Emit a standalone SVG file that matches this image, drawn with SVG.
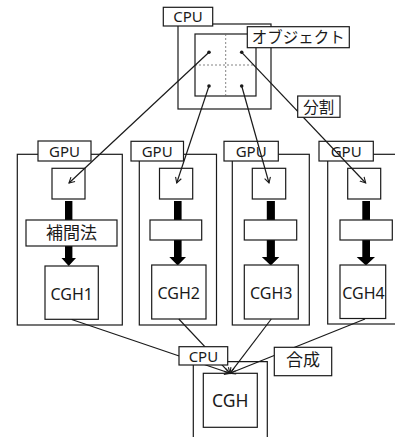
<svg xmlns="http://www.w3.org/2000/svg" width="395" height="437" viewBox="0 0 395 437">
  <style>
    .box { fill: #fff; stroke: #1a1a1a; stroke-width: 1.2; }
    .frame { fill: none; stroke: #1a1a1a; stroke-width: 1.2; }
    .grid { fill: none; stroke: #666; stroke-width: 0.8; stroke-dasharray: 2 2; }
    .link { fill: none; stroke: #1a1a1a; stroke-width: 1.2; marker-end: url(#tip); }
    .thick { fill: #000; }
    .dot { fill: #1a1a1a; }
    text { font-family: "Noto Sans", "Noto Sans CJK JP", sans-serif; fill: #1a1a1a; text-anchor: middle; }
    .lbl { font-size: 15px; }
    .cgh { font-size: 16px; }
    .jp { font-family: "Noto Sans CJK JP", sans-serif; }
  </style>
  <defs>
    <marker id="tip" viewBox="-6 -4 8 8" markerWidth="8" markerHeight="8" refX="0" refY="0" orient="auto" markerUnits="userSpaceOnUse">
      <path d="M-5.5,-3 L0,0 L-5.5,3" fill="none" stroke="#1a1a1a" stroke-width="1.1"/>
    </marker>
  </defs>
  <rect width="395" height="437" fill="#fff"/>

  <!-- host CPU holding the object -->
  <g id="cpu-top">
    <rect class="frame" x="178" y="24" width="93" height="85"/>
    <rect class="box" x="195" y="34" width="61" height="62"/>
    <line class="grid" x1="225.7" y1="34" x2="225.7" y2="96"/>
    <line class="grid" x1="195" y1="65" x2="256" y2="65"/>
    <circle class="dot" cx="209" cy="52.3" r="1.8"/>
    <circle class="dot" cx="241.7" cy="52.3" r="1.8"/>
    <circle class="dot" cx="209" cy="86" r="1.8"/>
    <circle class="dot" cx="241.7" cy="86" r="1.8"/>
    <rect class="box" x="163.3" y="7.3" width="49.4" height="18.7"/>
    <text class="lbl" x="188" y="22">CPU</text>
  </g>
  <g id="label-object">
    <rect class="box" x="247.3" y="26.7" width="102" height="21"/>
    <text class="jp" x="298.3" y="42.6" font-size="15.5">オブジェクト</text>
  </g>

  <!-- GPU 1 -->
  <g id="gpu1">
    <rect class="frame" x="17.3" y="154.3" width="105" height="170.7"/>
    <rect class="box" x="38" y="141" width="53" height="20"/>
    <text class="lbl" x="64.5" y="157">GPU</text>
    <rect class="box" x="52" y="168.3" width="33" height="30.7"/>
    <polygon class="thick" points="65,201 72.4,201 72.4,258 76,258 68.7,266 61.5,258 65,258"/>
    <rect class="box" x="26" y="220" width="91" height="26"/>
    <text class="jp" x="71.5" y="239" font-size="17">補間法</text>
    <rect class="box" x="45" y="266" width="53.3" height="53.3"/>
    <text class="cgh" x="71.7" y="299.5">CGH1</text>
  </g>

  <!-- GPU 2 -->
  <g id="gpu2">
    <rect class="frame" x="139.3" y="154.3" width="77.2" height="170.7"/>
    <rect class="box" x="131" y="141.3" width="52.5" height="19.7"/>
    <text class="lbl" x="157.2" y="157">GPU</text>
    <rect class="box" x="159.5" y="168.3" width="33.2" height="30.7"/>
    <polygon class="thick" points="174,201 181.6,201 181.6,257 186,257 177.7,265.5 169.3,257 174,257"/>
    <rect class="box" x="150" y="220" width="51.7" height="20"/>
    <rect class="box" x="151.7" y="265" width="54.3" height="54"/>
    <text class="cgh" x="178.8" y="299.4">CGH2</text>
  </g>

  <!-- GPU 3 -->
  <g id="gpu3">
    <rect class="frame" x="232.3" y="154.3" width="77" height="170.7"/>
    <rect class="box" x="224" y="141.3" width="54.3" height="19.7"/>
    <text class="lbl" x="251.2" y="157">GPU</text>
    <rect class="box" x="252.3" y="168.3" width="33.4" height="30.7"/>
    <polygon class="thick" points="266.8,201 274.9,201 274.9,257 279.3,257 270.8,265.5 261.8,257 266.8,257"/>
    <rect class="box" x="244.3" y="220" width="52.4" height="20"/>
    <rect class="box" x="244.3" y="265" width="54" height="54"/>
    <text class="cgh" x="271.3" y="299.4">CGH3</text>
  </g>

  <!-- GPU 4 -->
  <g id="gpu4">
    <rect class="frame" x="327.7" y="154.3" width="80" height="169.7"/>
    <rect class="box" x="319" y="141.3" width="54.3" height="19.7"/>
    <text class="lbl" x="346.2" y="157">GPU</text>
    <rect class="box" x="347.7" y="168.3" width="33" height="30.7"/>
    <polygon class="thick" points="362.3,201 370,201 370,257 375,257 365.9,265.5 356.7,257 362.3,257"/>
    <rect class="box" x="340" y="220" width="52.3" height="20"/>
    <rect class="box" x="340" y="265" width="45.7" height="53.5"/>
    <text class="cgh" x="363.5" y="299.4">CGH4</text>
  </g>

  <!-- CPU that combines the results -->
  <g id="cpu-bottom">
    <path class="frame" d="M193.3,440 V361.7 H267.3 V440"/>
    <rect class="box" x="203.3" y="373.3" width="54" height="54"/>
    <text x="230.3" y="407" font-size="17.5">CGH</text>
  </g>

  <g id="connectors">
    <line class="link" x1="209" y1="52.3" x2="69" y2="183"/>
    <line class="link" x1="209" y1="86" x2="176.7" y2="183"/>
    <line class="link" x1="241.7" y1="86" x2="269" y2="183"/>
    <line class="link" x1="241.7" y1="52.3" x2="365.7" y2="183"/>
    <line class="link" x1="71.7" y1="319.5" x2="230" y2="373.3"/>
    <line class="link" x1="178.8" y1="319" x2="230" y2="373.3"/>
    <line class="link" x1="271.3" y1="319" x2="230" y2="373.3"/>
    <line class="link" x1="365" y1="319" x2="230" y2="373.3"/>
  </g>

  <g id="label-split">
    <rect class="box" x="297.7" y="96" width="42.3" height="21.3"/>
    <text class="jp" x="318.8" y="112.6" font-size="15.5">分割</text>
  </g>
  <g id="label-cpu-bottom">
    <rect class="box" x="179" y="346.7" width="48.7" height="18.3"/>
    <text class="lbl" x="203.4" y="361.8">CPU</text>
  </g>
  <g id="label-combine">
    <rect class="box" x="274.3" y="347.3" width="57.4" height="28.4"/>
    <text class="jp" x="303" y="366.3" font-size="17">合成</text>
  </g>
</svg>
